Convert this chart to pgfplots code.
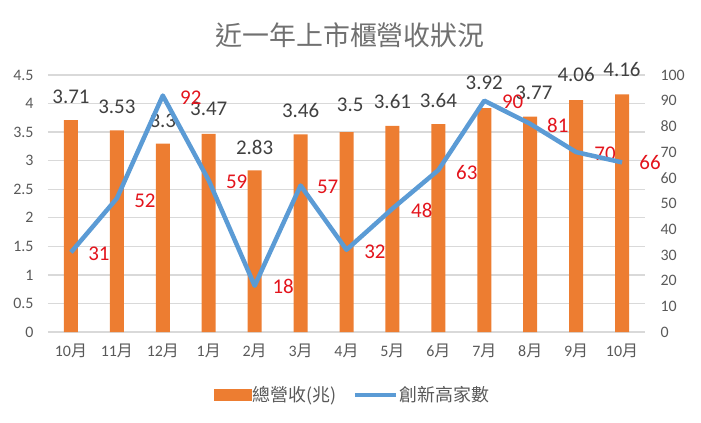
\documentclass[border=0pt]{standalone}
\usepackage{fontspec}
\setmainfont{Carlito}
\newfontfamily\cjk{Noto Sans CJK TC}
\usepackage{pgfplots}
\usepackage{pgfplotstable}
\pgfplotsset{compat=1.18}

\definecolor{barorange}{HTML}{ED7D31}
\definecolor{lineblue}{HTML}{5B9BD5}
\definecolor{txtgray}{HTML}{595959}
\definecolor{titlegray}{HTML}{707070}
\definecolor{lblgray}{HTML}{404040}
\definecolor{lblred}{HTML}{E3141C}
\definecolor{gridgray}{HTML}{D9D9D9}

% revenue (trillion) per month
\pgfplotstableread{
x rev
0 3.71
1 3.53
2 3.3
3 3.47
4 2.83
5 3.46
6 3.5
7 3.61
8 3.64
9 3.92
10 3.77
11 4.06
12 4.16
}\revtable

% number of companies at new highs
\pgfplotstableread{
x cnt
0 31
1 52
2 92
3 59
4 18
5 57
6 32
7 48
8 63
9 90
10 81
11 70
12 66
}\cnttable

% label positions (left axis units)
\pgfplotstableread{
x y lab
0 4.12 3.71
1 3.94 3.53
2 3.70 3.3
3 3.91 3.47
4 3.24 2.83
5 3.87 3.46
6.08 3.98 3.5
7 4.03 3.61
8 4.05 3.64
9 4.36 3.92
10.08 4.19 3.77
11 4.50 4.06
12 4.59 4.16
}\barlbl

\pgfplotstableread{
x y lab
0.61 1.37 31
1.61 2.29 52
2.61 4.10 92
3.61 2.63 59
4.62 0.79 18
5.59 2.54 57
6.62 1.40 32
7.64 2.12 48
8.62 2.80 63
9.62 4.03 90
10.60 3.61 81
11.63 3.12 70
12.61 2.96 66
}\cntlbl

\pgfplotsset{
  base/.style={
    scale only axis, width=597bp, height=257bp,
    xmin=-0.5, xmax=12.5,
    major tick length=0, clip=false,
    /pgf/number format/assume math mode=true,
    ticklabel style={txtgray, font=\fontsize{16}{18}\selectfont},
  },
}

\begin{document}
\begin{tikzpicture}
\begin{axis}[base,
  ymin=0, ymax=4.5,
  ytick={0,0.5,1,1.5,2,2.5,3,3.5,4,4.5},
  ymajorgrids, grid style={gridgray, line width=1.3bp},
  axis x line*=bottom, axis y line*=left,
  x axis line style={gridgray, line width=1.3bp, -},
  y axis line style={draw=none},
  xtick={0,...,12},
  xticklabels={{10\cjk 月},{11\cjk 月},{12\cjk 月},{1\cjk 月},{2\cjk 月},{3\cjk 月},{4\cjk 月},{5\cjk 月},{6\cjk 月},{7\cjk 月},{8\cjk 月},{9\cjk 月},{10\cjk 月}},
  xticklabel style={yshift=-8bp, font=\fontsize{16}{18}\selectfont},
  yticklabel style={xshift=-11bp},
]
\addplot[ybar, bar width=14bp, fill=barorange, draw=none] table[x=x, y=rev] {\revtable};
\addplot[draw=none, mark=none, nodes near coords, point meta=explicit symbolic,
  nodes near coords style={anchor=center, inner sep=0pt, lblgray, font=\fontsize{21}{24}\selectfont}]
  table[x=x, y=y, meta=lab] {\barlbl};
\addplot[draw=none, mark=none, nodes near coords, point meta=explicit symbolic,
  nodes near coords style={anchor=center, inner sep=0pt, lblred, font=\fontsize{21}{24}\selectfont}]
  table[x=x, y=y, meta=lab] {\cntlbl};
\node[titlegray, font=\cjk\fontsize{27}{30}\selectfont] at (rel axis cs:0.506,1.156) {近一年上市櫃營收狀況};
\end{axis}
\begin{axis}[base,
  ymin=0, ymax=100,
  ytick={0,10,...,100},
  axis x line=none, axis y line*=right,
  y axis line style={draw=none},
  yticklabel style={xshift=12bp},
  legend style={at={(0.51,-0.245)}, anchor=center, draw=none, fill=none,
    legend columns=2, text=txtgray, font=\cjk\fontsize{18}{20}\selectfont,
    /tikz/every even column/.append style={column sep=14bp}},
]
\addlegendimage{legend image code/.code={\fill[barorange] (0bp,-5.5bp) rectangle (37bp,5.5bp);}}
\addlegendentry{總營收(兆)}
\addplot[lineblue, line width=4.5bp, line join=round, mark=none,
  legend image code/.code={\draw[lineblue, line width=4bp] (0bp,0bp) -- (41bp,0bp);}]
  table[x=x, y=cnt] {\cnttable};
\addlegendentry{創新高家數}
\end{axis}
\path[use as bounding box] (-48bp,-91bp) rectangle (653bp,332bp);
\end{tikzpicture}
\end{document}
